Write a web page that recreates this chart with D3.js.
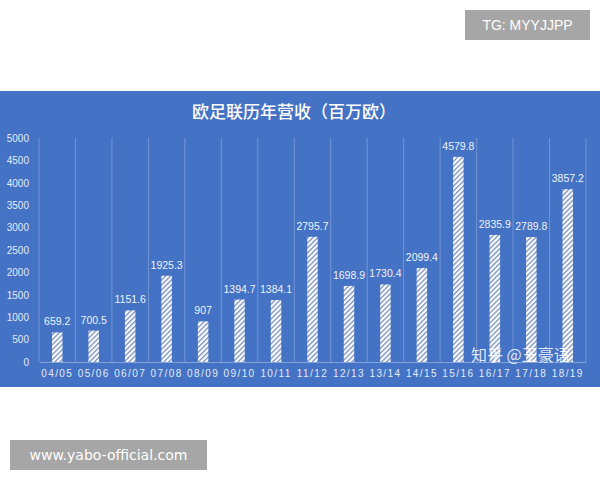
<!DOCTYPE html>
<html>
<head>
<meta charset="utf-8">
<script src="https://cdn.jsdelivr.net/npm/d3@7"></script>
<style>
  body { margin: 0; background: #fff; }
  svg { display: block; }
</style>
</head>
<body>
<svg id="chart"></svg>
<script>
// data
var seasons = ["04/05","05/06","06/07","07/08","08/09","09/10","10/11","11/12","12/13","13/14","14/15","15/16","16/17","17/18","18/19"];
var revenue = [659.2, 700.5, 1151.6, 1925.3, 907, 1394.7, 1384.1, 2795.7, 1698.9, 1730.4, 2099.4, 4579.8, 2835.9, 2789.8, 3857.2];
var yTicks = [0, 500, 1000, 1500, 2000, 2500, 3000, 3500, 4000, 4500, 5000];
var title = "欧足联历年营收（百万欧）";

var width = 600, height = 480;
var panel = {"top": 91, "bottom": 387};
var margin = {"top": 138, "left": 39, "right": 14, "bottom": 118};

var svg = d3.select('#chart')
    .attr('width', width)
    .attr('height', height);

// hatch pattern for the bars
var defs = svg.append('defs');
var pat = defs.append('pattern')
    .attr('id', 'hatch')
    .attr('patternUnits', 'userSpaceOnUse')
    .attr('width', 3.5)
    .attr('height', 3.5)
    .attr('patternTransform', 'rotate(45)');
pat.append('rect').attr('width', 3.5).attr('height', 3.5).attr('fill', '#ffffff');
pat.append('rect').attr('width', 1.4).attr('height', 3.5).attr('fill', '#7f96c0');

// blue panel
svg.append('rect')
    .attr('x', 0)
    .attr('y', panel.top)
    .attr('width', width)
    .attr('height', panel.bottom - panel.top)
    .attr('fill', '#4472c4');

// scales
var xScale = d3.scaleBand()
    .domain(seasons)
    .range([margin.left, width - margin.right])
    .paddingInner(0)
    .paddingOuter(0);

var yScale = d3.scaleLinear()
    .domain([0, 5000])
    .range([height - margin.bottom, margin.top]);

// vertical gridlines at category boundaries
var bounds = seasons.map(function(s){ return xScale(s); });
bounds.push(xScale(seasons[seasons.length - 1]) + xScale.bandwidth());
svg.selectAll('.vgrid')
    .data(bounds)
    .enter()
    .append('line')
    .attr('x1', function(d){ return d; })
    .attr('x2', function(d){ return d; })
    .attr('y1', yScale(5000))
    .attr('y2', yScale(0))
    .attr('stroke', '#ffffff')
    .attr('stroke-opacity', 0.25)
    .attr('stroke-width', 1);

// y axis (labels only)
var yAxis = d3.axisLeft(yScale)
    .tickValues(yTicks)
    .tickFormat(d3.format('d'))
    .tickSize(0)
    .tickPadding(10);

var gy = svg.append('g')
    .attr('transform', 'translate(' + [margin.left, 0] + ')')
    .call(yAxis);
gy.select('.domain').remove();
gy.selectAll('text')
    .style('font-family', 'Liberation Sans, Arial, sans-serif')
    .style('font-size', '10px')
    .style('fill', '#e3eaf7');

// x axis
var xAxis = d3.axisBottom(xScale)
    .tickSize(0)
    .tickPadding(8);

var gx = svg.append('g')
    .attr('transform', 'translate(' + [0, yScale(0)] + ')')
    .call(xAxis);
gx.select('.domain')
    .attr('stroke', '#ffffff')
    .attr('stroke-opacity', 0.35);
gx.selectAll('text')
    .style('font-family', 'Liberation Sans, Arial, sans-serif')
    .style('font-size', '10px')
    .style('letter-spacing', '1.4px')
    .style('fill', '#e3eaf7');

// bars
var barWidth = 10.5;
svg.selectAll('.bar')
    .data(revenue)
    .enter()
    .append('rect')
    .attr('x', function(d, i){ return xScale(seasons[i]) + xScale.bandwidth() / 2 - barWidth / 2; })
    .attr('y', function(d){ return yScale(d); })
    .attr('width', barWidth)
    .attr('height', function(d){ return yScale(0) - yScale(d); })
    .attr('fill', 'url(#hatch)');

// value labels
svg.selectAll('.val')
    .data(revenue)
    .enter()
    .append('text')
    .attr('x', function(d, i){ return xScale(seasons[i]) + xScale.bandwidth() / 2; })
    .attr('y', function(d){ return yScale(d) - 7; })
    .attr('text-anchor', 'middle')
    .style('font-family', 'Liberation Sans, Arial, sans-serif')
    .style('font-size', '10.5px')
    .style('fill', '#eef2fa')
    .text(function(d){ return d; });

// title
svg.append('text')
    .attr('x', 294)
    .attr('y', 118)
    .attr('text-anchor', 'middle')
    .style('font-family', 'Noto Sans CJK SC, sans-serif')
    .style('font-size', '17px')
    .style('font-weight', '500')
    .style('fill', '#ffffff')
    .text(title);

// watermark
svg.append('text')
    .attr('x', 471)
    .attr('y', 361)
    .style('font-family', 'Noto Sans CJK SC, sans-serif')
    .style('font-size', '16px')
    .style('fill', '#ffffff')
    .style('fill-opacity', 0.85)
    .text('知乎 @王豪语');

// corner tags
svg.append('rect')
    .attr('x', 465).attr('y', 10)
    .attr('width', 125).attr('height', 30)
    .attr('fill', '#a6a6a6');
svg.append('text')
    .attr('x', 527.5).attr('y', 30)
    .attr('text-anchor', 'middle')
    .style('font-family', 'Liberation Sans, Arial, sans-serif')
    .style('font-size', '14px')
    .style('fill', '#ffffff')
    .text('TG: MYYJJPP');

svg.append('rect')
    .attr('x', 10).attr('y', 440)
    .attr('width', 197).attr('height', 30)
    .attr('fill', '#a6a6a6');
svg.append('text')
    .attr('x', 108.5).attr('y', 460)
    .attr('text-anchor', 'middle')
    .style('font-family', 'DejaVu Sans, sans-serif')
    .style('font-size', '14px')
    .style('fill', '#ffffff')
    .text('www.yabo-official.com');
</script>
</body>
</html>
